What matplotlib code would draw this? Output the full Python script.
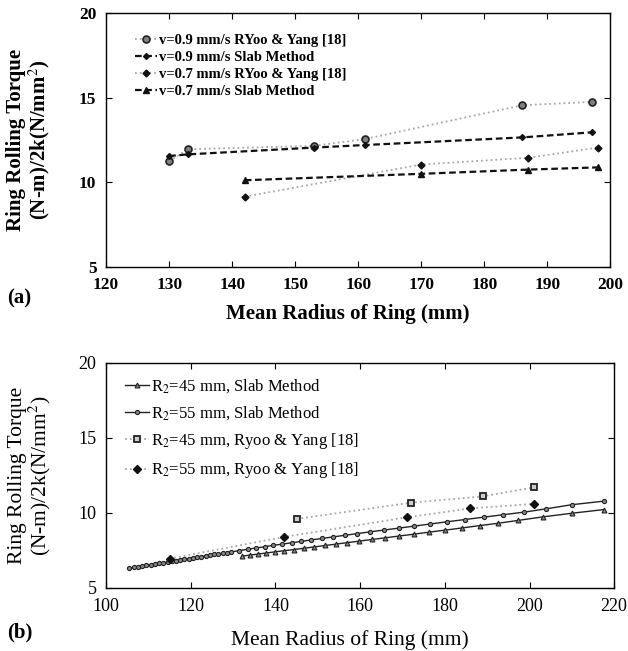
import matplotlib
matplotlib.use('Agg')
import matplotlib.pyplot as plt

plt.rcParams['font.family'] = ['Liberation Serif', 'DejaVu Serif']
plt.rcParams['mathtext.fontset'] = 'stix'

# ---- panel (a) data ----
a_x09 = [130, 133, 153, 161, 186, 197]
a_ryoo09 = [11.25, 11.95, 12.15, 12.55, 14.55, 14.75]
a_slab09 = [11.55, 11.65, 12.05, 12.2, 12.65, 12.95]
a_x07 = [142, 170, 187, 198]
a_ryoo07 = [9.15, 11.05, 11.45, 12.05]
a_slab07 = [10.12, 10.5, 10.75, 10.88]
a_labels = ['v=0.9 mm/s RYoo & Yang [18]', 'v=0.9 mm/s Slab Method',
            'v=0.7 mm/s RYoo & Yang [18]', 'v=0.7 mm/s Slab Method']

# ---- panel (b) data ----
b_x_slab45 = [132.1, 134.0, 135.9, 137.8, 140.0, 142.0, 144.4, 146.8, 149.1,
              151.7, 154.3, 157.0, 159.8, 162.8, 165.9, 169.2, 172.6, 176.3,
              180.0, 184.1, 188.4, 192.6, 197.3, 203.3, 210.1, 217.5]
b_y_slab45 = [7.12, 7.19, 7.26, 7.33, 7.41, 7.48, 7.56, 7.65, 7.73,
              7.83, 7.92, 8.02, 8.12, 8.23, 8.34, 8.46, 8.58, 8.72,
              8.85, 9.00, 9.16, 9.31, 9.50, 9.74, 9.98, 10.22]
b_x_slab55 = [105.5, 106.5, 107.5, 108.5, 109.5, 110.5, 111.5, 112.5, 113.5,
              114.5, 115.5, 116.5, 117.5, 118.5, 119.5, 120.5, 121.5, 122.5,
              123.5, 124.5, 125.5, 126.5, 127.5, 128.5, 129.5, 131.5, 133.5,
              135.4, 137.5, 139.5, 141.6, 143.8, 146.0, 148.5, 151.0, 153.6,
              156.4, 159.3, 162.4, 165.7, 169.2, 172.8, 176.5, 180.6, 184.8,
              189.3, 193.8, 198.7, 203.9, 210.1, 217.5]
b_y_slab55 = [6.33, 6.37, 6.42, 6.46, 6.51, 6.55, 6.60, 6.64, 6.69,
              6.73, 6.78, 6.82, 6.87, 6.91, 6.96, 7.00, 7.05, 7.09,
              7.14, 7.18, 7.23, 7.27, 7.31, 7.36, 7.40, 7.49, 7.58,
              7.66, 7.75, 7.84, 7.92, 8.01, 8.10, 8.20, 8.30, 8.40,
              8.51, 8.62, 8.74, 8.86, 8.99, 9.12, 9.26, 9.41, 9.56,
              9.72, 9.88, 10.05, 10.27, 10.55, 10.78]
b_x_ryoo45 = [145, 172, 189, 201]
b_y_ryoo45 = [9.6, 10.68, 11.1, 11.7]
b_x_ryoo55 = [115, 142, 171, 186, 201]
b_y_ryoo55 = [6.95, 8.4, 9.7, 10.3, 10.6]
b_labels = [r'R$_2$=45 mm, Slab Method', r'R$_2$=55 mm, Slab Method',
            r'R$_2$=45 mm, Ryoo & Yang [18]', r'R$_2$=55 mm, Ryoo & Yang [18]']

GRAY = '#a8a8a8'
DASH = (3, 1.6)
ylab = 'Ring Rolling Torque\n(N-m)/2k(N/mm$^2$)'


def style_axes(ax, bold, size):
    ax.tick_params(direction='in', top=True, right=True, length=4,
                   labelsize=size, pad=7)
    for s in ax.spines.values():
        s.set_linewidth(1.0)
    if bold:
        for t in ax.get_xticklabels() + ax.get_yticklabels():
            t.set_fontweight('bold')


fig = plt.figure(figsize=(6.28, 6.51), dpi=100)

# ---------- (a) ----------
ax1 = fig.add_axes([0.169, 0.590, 0.803, 0.390])
ax1.plot(a_x09, a_ryoo09, ls=':', color=GRAY, lw=1.3, marker='o', ms=5,
         mfc='#808080', mec='#222222', mew=1.2, label=a_labels[0])
ax1.plot(a_x09, a_slab09, ls='--', dashes=DASH, color='#111111', lw=1.6,
         marker='D', ms=3, mfc='#111111', mec='#111111', label=a_labels[1])
ax1.plot(a_x07, a_ryoo07, ls=':', color=GRAY, lw=1.3, marker='D', ms=3.5,
         mfc='#111111', mec='#111111', label=a_labels[2])
ax1.plot(a_x07, a_slab07, ls='--', dashes=DASH, color='#111111', lw=1.6,
         marker='^', ms=4, mfc='#111111', mec='#111111', label=a_labels[3])
ax1.set_xlim(120, 200)
ax1.set_ylim(5, 20)
ax1.set_xticks(range(120, 201, 10))
ax1.set_yticks([5, 10, 15, 20])
style_axes(ax1, True, 12.5)
ax1.set_ylabel(ylab, fontsize=15, fontweight='bold', linespacing=1.0)
ax1.yaxis.set_label_coords(-0.108, 0.5)
ax1.set_xlabel('Mean Radius of Ring (mm)', fontsize=15, fontweight='bold')
ax1.xaxis.set_label_coords(0.48, -0.145)
ax1.legend(loc='upper left', bbox_to_anchor=(0.045, 0.94), frameon=False,
           numpoints=1, handlelength=1.5, handletextpad=0.2,
           labelspacing=0.25, borderaxespad=0.0,
           prop={'size': 10.5, 'weight': 'bold'})
fig.text(0.012, 0.542, '(a)', fontsize=15, fontweight='bold', va='center')

# ---------- (b) ----------
ax2 = fig.add_axes([0.169, 0.0968, 0.809, 0.346])
ax2.plot(b_x_slab45, b_y_slab45, ls='-', color='#222222', lw=1.0, marker='^',
         ms=3.5, mfc='#888888', mec='#222222', mew=0.8, label=b_labels[0])
ax2.plot(b_x_slab55, b_y_slab55, ls='-', color='#222222', lw=1.0, marker='o',
         ms=3, mfc='#888888', mec='#222222', mew=0.8, label=b_labels[1])
ax2.plot(b_x_ryoo45, b_y_ryoo45, ls=':', color=GRAY, lw=1.3, marker='s',
         ms=5, mfc='#cccccc', mec='#222222', mew=1.3, label=b_labels[2])
ax2.plot(b_x_ryoo55, b_y_ryoo55, ls=':', color=GRAY, lw=1.3, marker='D',
         ms=4, mfc='#111111', mec='#111111', label=b_labels[3])
ax2.set_xlim(100, 220)
ax2.set_ylim(5, 20)
ax2.set_xticks(range(100, 221, 20))
ax2.set_yticks([5, 10, 15, 20])
style_axes(ax2, False, 13)
ax2.set_ylabel(ylab, fontsize=15.5, linespacing=1.0)
ax2.yaxis.set_label_coords(-0.105, 0.5)
ax2.set_xlabel('Mean Radius of Ring (mm)', fontsize=15.5)
ax2.xaxis.set_label_coords(0.48, -0.185)
ax2.legend(loc='upper left', bbox_to_anchor=(0.025, 0.965), frameon=False,
           numpoints=1, handlelength=1.4, handletextpad=0.15,
           labelspacing=0.55, borderaxespad=0.0, prop={'size': 12})
fig.text(0.012, 0.028, '(b)', fontsize=15, fontweight='bold', va='center')

plt.savefig('out.png', dpi=100)
